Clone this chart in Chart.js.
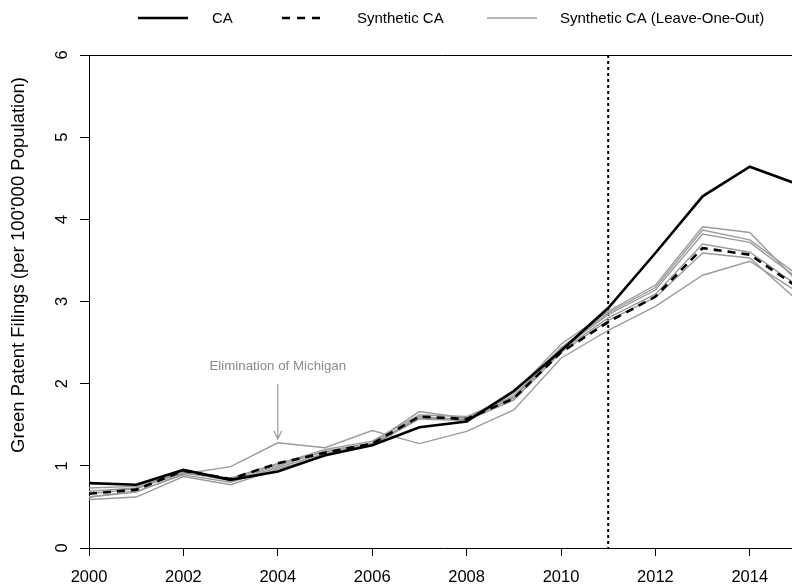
<!DOCTYPE html>
<html>
<head>
<meta charset="utf-8">
<title>Green patent filings, CA vs synthetic CA</title>
<script src="https://cdn.jsdelivr.net/npm/chart.js@4.4.1/dist/chart.umd.min.js"></script>
<style>
  html, body { margin: 0; padding: 0; background: #fff; overflow: hidden; }
  #wrap { position: relative; width: 797px; height: 588px; }
</style>
</head>
<body>
<div id="wrap"><canvas id="chart"></canvas></div>
<script>
// --- data ---
const YEARS = [2000, 2001, 2002, 2003, 2004, 2005, 2006, 2007, 2008, 2009, 2010, 2011, 2012, 2013, 2014, 2015];
const CA    = [0.79, 0.77, 0.95, 0.83, 0.93, 1.13, 1.25, 1.47, 1.54, 1.91, 2.40, 2.92, 3.59, 4.28, 4.64, 4.43];
const SYNTH = [0.66, 0.71, 0.94, 0.84, 1.03, 1.16, 1.27, 1.60, 1.57, 1.82, 2.38, 2.75, 3.06, 3.65, 3.57, 3.18];
// leave-one-out synthetic controls
const LOO_1 = [0.73, 0.75, 0.92, 0.82, 1.00, 1.18, 1.28, 1.66, 1.58, 1.88, 2.48, 2.88, 3.20, 3.91, 3.84, 3.25];
const LOO_2 = [0.69, 0.73, 0.91, 0.84, 1.02, 1.20, 1.30, 1.62, 1.60, 1.85, 2.44, 2.86, 3.17, 3.87, 3.75, 3.33];
const LOO_3 = [0.62, 0.69, 0.89, 0.80, 0.98, 1.15, 1.26, 1.60, 1.56, 1.84, 2.42, 2.84, 3.14, 3.82, 3.72, 3.29];
const LOO_4 = [0.66, 0.72, 0.93, 0.85, 1.03, 1.17, 1.27, 1.58, 1.57, 1.82, 2.40, 2.80, 3.09, 3.70, 3.60, 3.20];
const LOO_5 = [0.59, 0.62, 0.87, 0.77, 0.96, 1.12, 1.25, 1.57, 1.55, 1.80, 2.38, 2.77, 3.05, 3.59, 3.53, 3.02];
const LOO_MI = [0.62, 0.68, 0.90, 0.99, 1.28, 1.22, 1.43, 1.27, 1.42, 1.68, 2.31, 2.65, 2.94, 3.32, 3.49, 3.12];

const X_TICKS = [2000, 2002, 2004, 2006, 2008, 2010, 2012, 2014];
const Y_TICKS = [0, 1, 2, 3, 4, 5, 6];
const TREATMENT_YEAR = 2011;
const NOTE_YEAR = 2004;
const NOTE_TEXT = "Elimination of Michigan";
const LEGEND_LABELS = ["CA", "Synthetic CA", "Synthetic CA (Leave-One-Out)"];
const Y_TITLE = "Green Patent Filings (per 100'000 Population)";

const FONT = "'Liberation Sans', Arial, Helvetica, sans-serif";
const GREY = "#9b9b9b";

const pts = (arr) => YEARS.map((y, i) => ({ x: y, y: arr[i] }));
const looLine = (arr) => ({
  label: LEGEND_LABELS[2], data: pts(arr),
  borderColor: GREY, borderWidth: 1.4, pointRadius: 0, tension: 0
});

/* extras drawn on top of the chart: box, dotted line, rotated y labels, legend, note */
const extras = {
  id: "extras",
  beforeDatasetsDraw(chart) {
    const { ctx, chartArea: a, scales: { x } } = chart;
    const tx = x.getPixelForValue(TREATMENT_YEAR);
    ctx.save();
    ctx.strokeStyle = "#000";
    ctx.lineWidth = 2;
    ctx.setLineDash([3, 3]);
    ctx.beginPath();
    ctx.moveTo(tx, a.top);
    ctx.lineTo(tx, a.bottom);
    ctx.stroke();
    ctx.restore();
  },
  afterDraw(chart) {
    const { ctx, chartArea: a, scales: { x, y } } = chart;
    ctx.save();

    // box top + right
    ctx.strokeStyle = "#000";
    ctx.lineWidth = 1;
    ctx.beginPath();
    ctx.moveTo(a.left, a.top + 0.5);
    ctx.lineTo(a.right - 0.5, a.top + 0.5);
    ctx.lineTo(a.right - 0.5, a.bottom);
    ctx.stroke();

    // y tick labels, rotated like R's default
    ctx.fillStyle = "#000";
    ctx.font = "16.5px " + FONT;
    ctx.textAlign = "center";
    ctx.textBaseline = "middle";
    Y_TICKS.forEach(v => {
      ctx.save();
      ctx.translate(62, y.getPixelForValue(v));
      ctx.rotate(-Math.PI / 2);
      ctx.fillText(String(v), 0, 0);
      ctx.restore();
    });

    // y axis title
    ctx.save();
    ctx.font = "18.5px " + FONT;
    ctx.translate(19, 265);
    ctx.rotate(-Math.PI / 2);
    ctx.fillText(Y_TITLE, 0, 0);
    ctx.restore();

    // legend
    const items = [
      { x0: 138, x1: 188, tx: 212, dash: [], color: "#000", w: 2.4 },
      { x0: 282, x1: 324, tx: 357, dash: [8, 7], color: "#000", w: 2.4 },
      { x0: 487, x1: 537, tx: 560, dash: [], color: GREY, w: 1.6 }
    ];
    ctx.font = "15px " + FONT;
    ctx.textAlign = "left";
    items.forEach((it, i) => {
      ctx.strokeStyle = it.color;
      ctx.lineWidth = it.w;
      ctx.setLineDash(it.dash);
      ctx.beginPath();
      ctx.moveTo(it.x0, 18);
      ctx.lineTo(it.x1, 18);
      ctx.stroke();
      ctx.fillStyle = "#000";
      ctx.fillText(LEGEND_LABELS[i], it.tx, 19);
    });
    ctx.setLineDash([]);

    // annotation + arrow
    const nx = x.getPixelForValue(NOTE_YEAR);
    const tip = y.getPixelForValue(LOO_MI[YEARS.indexOf(NOTE_YEAR)]) - 4;
    ctx.strokeStyle = GREY;
    ctx.fillStyle = "#8a8a8a";
    ctx.lineWidth = 1.2;
    ctx.beginPath();
    ctx.moveTo(nx, tip - 55);
    ctx.lineTo(nx, tip);
    ctx.moveTo(nx - 4, tip - 8);
    ctx.lineTo(nx, tip);
    ctx.lineTo(nx + 4, tip - 8);
    ctx.stroke();
    ctx.font = "13.3px " + FONT;
    ctx.textAlign = "center";
    ctx.fillText(NOTE_TEXT, nx, tip - 72);

    ctx.restore();
  }
};

new Chart(document.getElementById("chart"), {
  type: "line",
  data: {
    datasets: [
      { label: LEGEND_LABELS[0], data: pts(CA), borderColor: "#000", borderWidth: 2.6, pointRadius: 0, tension: 0 },
      { label: LEGEND_LABELS[1], data: pts(SYNTH), borderColor: "#000", borderWidth: 2.6, borderDash: [8, 6], pointRadius: 0, tension: 0 },
      looLine(LOO_1), looLine(LOO_2), looLine(LOO_3), looLine(LOO_4), looLine(LOO_5), looLine(LOO_MI)
    ]
  },
  options: {
    responsive: true,
    maintainAspectRatio: false,
    animation: false,
    layout: { padding: { top: 55, left: 0, right: 0, bottom: 0 } },
    plugins: { legend: { display: false }, tooltip: { enabled: false } },
    scales: {
      x: {
        type: "linear", min: 2000, max: 2015,
        afterBuildTicks: (s) => { s.ticks = X_TICKS.map(v => ({ value: v })); },
        afterFit: (s) => { s.height = 40; },
        grid: { display: true, drawOnChartArea: false, drawTicks: true, tickLength: 8, color: "#000" },
        border: { display: true, color: "#000", width: 1 },
        ticks: {
          color: "#000", padding: 12, maxRotation: 0, autoSkip: false,
          font: { family: FONT, size: 16.5 },
          callback: (v) => String(v)
        }
      },
      y: {
        min: 0, max: 6,
        afterBuildTicks: (s) => { s.ticks = Y_TICKS.map(v => ({ value: v })); },
        afterFit: (s) => { s.width = 89; },
        grid: { display: true, drawOnChartArea: false, drawTicks: true, tickLength: 9, color: "#000" },
        border: { display: true, color: "#000", width: 1 },
        ticks: { display: false }
      }
    }
  },
  plugins: [extras]
});
</script>
</body>
</html>
